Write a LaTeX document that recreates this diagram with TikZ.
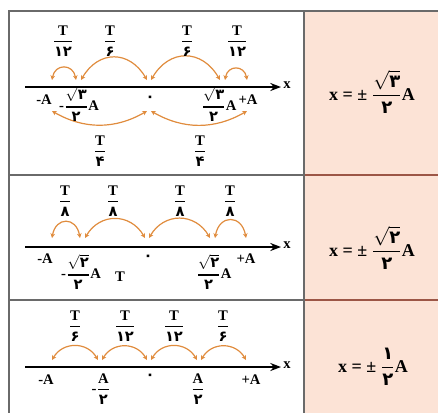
\documentclass[tikz,border=0pt]{standalone}
\usepackage{amsmath}
\usepackage{fontspec}
\setmainfont{Liberation Serif}
\newfontfamily\fa{DejaVu Sans}
\usepackage{tikz}
\usetikzlibrary{arrows.meta}

\definecolor{arcclr}{HTML}{E08C3E}
\definecolor{cellfill}{HTML}{FCE3D6}
\definecolor{framegray}{HTML}{6A6A6A}
\definecolor{cellline}{HTML}{9C5646}

\newcommand{\pd}[1]{\text{\fa\bfseries #1}}
\newcommand{\per}[1]{$\genfrac{}{}{1.1pt}{0}{\text{\bfseries T}}{\pd{#1}}$}
\newcommand{\sqa}[1]{$\genfrac{}{}{1.1pt}{0}{\sqrt{\pd{#1}}}{\pd{۲}}$}

\begin{document}
\begin{tikzpicture}[x=0.75pt, y=-0.75pt,
  lbl/.style={inner sep=0pt, font=\fontsize{11}{12}\selectfont\bfseries},
  eqn/.style={inner sep=0pt, font=\fontsize{13.5}{14}\selectfont\bfseries},
  axis/.style={line width=1.6pt, -{Stealth[length=8pt,width=6pt]}},
  arc/.style={draw=arcclr, line width=0.9pt,
              {Stealth[length=3.5pt,width=3.5pt]}-{Stealth[length=3.5pt,width=3.5pt]}},
  frame/.style={draw=framegray, line width=1.4pt},
]
\useasboundingbox (0,0) rectangle (438,412);
\clip (0,0) rectangle (438,412);

%% table
\fill[cellfill] (304,11) rectangle (460,430);
\draw[frame] (9,11) rectangle (460,430);
\draw[frame] (9,175) -- (304,175);
\draw[frame] (9,300) -- (304,300);
\draw[frame, draw=cellline] (304,175) -- (460,175);
\draw[frame, draw=cellline] (304,300) -- (460,300);
\draw[frame] (304,11) -- (304,430);

%% Row 1 --- x = +-sqrt3/2 A
\coordinate (r1l) at (25,87);
\coordinate (r1r) at (281,87);
\coordinate (r1m) at (50,87);
\coordinate (r1s) at (78,87);
\coordinate (r1o) at (149,87);
\coordinate (r1t) at (223,87);
\coordinate (r1p) at (249,87);
\draw[axis] (r1l) -- (r1r);
\node[lbl] (r1x) at (287,85) {x};
\draw[arc] ([shift={(2,-7)}]r1m) to[bend left=80, looseness=1.8] ([shift={(-2,-7)}]r1s);
\draw[arc] ([shift={(3,-7)}]r1s) to[bend left=60, looseness=1.35] ([shift={(-2,-7)}]r1o);
\draw[arc] ([shift={(2,-7)}]r1o) to[bend left=60, looseness=1.35] ([shift={(-3,-7)}]r1t);
\draw[arc] ([shift={(2,-7)}]r1t) to[bend left=80, looseness=1.8] ([shift={(-2,-7)}]r1p);
\draw[arc] ([shift={(2,24)}]r1m) to[bend right=30] ([shift={(-2,24)}]r1o);
\draw[arc] ([shift={(2,24)}]r1o) to[bend right=30] ([shift={(-2,24)}]r1p);
\node[lbl] (r1a) at (63,41) {\per{۱۲}};
\node[lbl] (r1b) at (110,41) {\per{۶}};
\node[lbl] (r1c) at (187,41) {\per{۶}};
\node[lbl] (r1d) at (237,41) {\per{۱۲}};
\node[lbl] (r1e) at (100,151) {\per{۴}};
\node[lbl] (r1f) at (200,151) {\per{۴}};
\node[lbl] (r1g) at (44,100) {-A};
\node[lbl] (r1h) at (79,104) {-\sqa{۳}A};
\node[lbl] (r1i) at (150,99) {\fa ۰};
\node[lbl] (r1j) at (219,104) {\sqa{۳}A};
\node[lbl] (r1k) at (248,100) {+A};
\node[eqn] (r1q) at (372,92) {x = ± $\genfrac{}{}{0.8pt}{0}{\sqrt{\pd{۳}}}{\pd{۲}}$A};

%% Row 2 --- x = +-sqrt2/2 A
\coordinate (r2l) at (25,247);
\coordinate (r2r) at (281,247);
\coordinate (r2m) at (50,247);
\coordinate (r2s) at (82,247);
\coordinate (r2o) at (147,247);
\coordinate (r2t) at (213,247);
\coordinate (r2p) at (248,247);
\draw[axis] (r2l) -- (r2r);
\node[lbl] (r2x) at (287,245) {x};
\draw[arc] ([shift={(2,-9)}]r2m) to[bend left=80, looseness=2] ([shift={(-2,-9)}]r2s);
\draw[arc] ([shift={(3,-9)}]r2s) to[bend left=60, looseness=1.25] ([shift={(-2,-9)}]r2o);
\draw[arc] ([shift={(2,-9)}]r2o) to[bend left=60, looseness=1.25] ([shift={(-3,-9)}]r2t);
\draw[arc] ([shift={(2,-9)}]r2t) to[bend left=80, looseness=2] ([shift={(-2,-9)}]r2p);
\node[lbl] (r2a) at (65,201) {\per{۸}};
\node[lbl] (r2b) at (113,201) {\per{۸}};
\node[lbl] (r2c) at (180,201) {\per{۸}};
\node[lbl] (r2d) at (230,201) {\per{۸}};
\node[lbl] (r2g) at (45,259) {-A};
\node[lbl] (r2h) at (81,272) {-\sqa{۲}A};
\node[lbl] (r2n) at (120,277) {T};
\node[lbl] (r2i) at (148,258) {\fa ۰};
\node[lbl] (r2j) at (214,272) {\sqa{۲}A};
\node[lbl] (r2k) at (246,259) {+A};
\node[eqn] (r2q) at (372,248) {x = ± $\genfrac{}{}{0.8pt}{0}{\sqrt{\pd{۲}}}{\pd{۲}}$A};

%% Row 3 --- x = +-1/2 A
\coordinate (r3l) at (25,367);
\coordinate (r3r) at (281,367);
\coordinate (r3m) at (50,367);
\coordinate (r3s) at (100,367);
\coordinate (r3o) at (149,367);
\coordinate (r3t) at (199,367);
\coordinate (r3p) at (248,367);
\draw[axis] (r3l) -- (r3r);
\node[lbl] (r3x) at (287,365) {x};
\draw[arc] ([shift={(2,-7)}]r3m) to[bend left=60, looseness=1.2] ([shift={(-2,-7)}]r3s);
\draw[arc] ([shift={(2,-7)}]r3s) to[bend left=60, looseness=1.2] ([shift={(-2,-7)}]r3o);
\draw[arc] ([shift={(2,-7)}]r3o) to[bend left=60, looseness=1.2] ([shift={(-2,-7)}]r3t);
\draw[arc] ([shift={(2,-7)}]r3t) to[bend left=60, looseness=1.2] ([shift={(-2,-7)}]r3p);
\node[lbl] (r3a) at (75,326) {\per{۶}};
\node[lbl] (r3b) at (125,326) {\per{۱۲}};
\node[lbl] (r3c) at (174,326) {\per{۱۲}};
\node[lbl] (r3d) at (223,326) {\per{۶}};
\node[lbl] (r3g) at (46,380) {-A};
\node[lbl] (r3h) at (101,389) {-$\genfrac{}{}{1.1pt}{0}{\text{\bfseries A}}{\pd{۲}}$};
\node[lbl] (r3i) at (150,377) {\fa ۰};
\node[lbl] (r3j) at (198,389) {$\genfrac{}{}{1.1pt}{0}{\text{\bfseries A}}{\pd{۲}}$};
\node[lbl] (r3k) at (251,380) {+A};
\node[eqn] (r3q) at (373,367) {x = ± $\genfrac{}{}{0.8pt}{0}{\pd{۱}}{\pd{۲}}$A};

\end{tikzpicture}
\end{document}
